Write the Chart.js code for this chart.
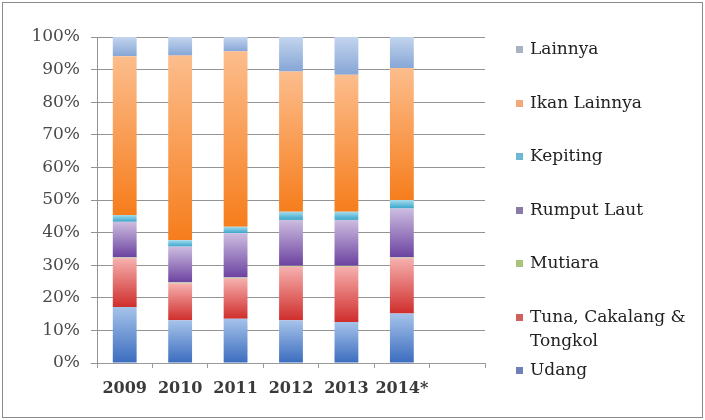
<!DOCTYPE html>
<html>
<head>
<meta charset="utf-8">
<script src="https://cdn.jsdelivr.net/npm/chart.js@4/dist/chart.umd.min.js"></script>
<style>
    html, body { margin: 0; padding: 0; background: #fff; }
    #wrap { position: relative; width: 705px; height: 420px; }
    #frame { position: absolute; left: 2px; top: 2px; width: 699px; height: 414px; border: 1px solid #8a8a8a; pointer-events: none; }
    #legend { position: absolute; left: 512px; top: 22px; width: 180px; margin: 0; padding: 0; list-style: none;
              font-family: "DejaVu Serif", serif; font-size: 17px; color: #222; }
    #legend li { position: relative; height: 53.5px; padding-left: 18px; box-sizing: border-box; padding-top: 14px; line-height: 24px; }
    #legend li span.box { position: absolute; left: 4px; top: 24px; width: 7px; height: 7px; }
</style>
</head>
<body>
<div id="wrap">
    <canvas id="chart" width="705" height="420"></canvas>
    <ul id="legend"></ul>
    <div id="frame"></div>
</div>
<script>
// years, plus the empty slot Excel left at the right end of the axis
const years = ['2009', '2010', '2011', '2012', '2013', '2014*', ''];

const udang = [17.2, 13.1, 13.6, 13.1, 12.6, 15.2];
const tuna = [14.9, 11.3, 12.3, 16.4, 16.9, 16.9];
const mutiara = [0.3, 0.3, 0.3, 0.3, 0.3, 0.3];
const rumputLaut = [10.9, 11.0, 13.6, 14.1, 14.1, 15.0];
const kepiting = [2.1, 2.0, 2.0, 2.5, 2.5, 2.6];
const ikanLainnya = [48.7, 56.6, 53.8, 43.0, 42.0, 40.5];
const lainnya = [5.9, 5.7, 4.4, 10.6, 11.6, 9.5];

const yTicks = [0, 10, 20, 30, 40, 50, 60, 70, 80, 90, 100];

// light top -> dark bottom, like the Excel gradient fill
function segmentFill(light, dark) {
    return (ctx) => {
        if (ctx.type !== 'data') return dark;
        const chart = ctx.chart;
        const yScale = chart.scales.y;
        if (!chart.chartArea || !yScale) return dark;
        const i = ctx.dataIndex;
        let base = 0;
        for (let k = 0; k < ctx.datasetIndex; k++) {
            base += chart.data.datasets[k].data[i] || 0;
        }
        const top = base + (chart.data.datasets[ctx.datasetIndex].data[i] || 0);
        const y0 = yScale.getPixelForValue(top);
        const y1 = yScale.getPixelForValue(base);
        if (!(y1 > y0)) return dark;
        const g = chart.ctx.createLinearGradient(0, y0, 0, y1);
        g.addColorStop(0, light);
        g.addColorStop(1, dark);
        return g;
    };
}

const series = [
    { label: 'Udang', data: udang, light: '#a6c3ea', dark: '#3b6cbf', key: '#6f7fb8' },
    { label: 'Tuna, Cakalang & Tongkol', data: tuna, light: '#f6b0ae', dark: '#cf2e2c', key: '#d0605c' },
    { label: 'Mutiara', data: mutiara, light: '#dbe8c0', dark: '#9bbb59', key: '#a9c47a' },
    { label: 'Rumput Laut', data: rumputLaut, light: '#cdbde0', dark: '#6b42a0', key: '#8a7aa8' },
    { label: 'Kepiting', data: kepiting, light: '#a7dbec', dark: '#36a5cb', key: '#6fb7d4' },
    { label: 'Ikan Lainnya', data: ikanLainnya, light: '#fcbd8c', dark: '#f67d1c', key: '#f2a878' },
    { label: 'Lainnya', data: lainnya, light: '#c3d4ee', dark: '#86a6d6', key: '#a9b2c0' }
];

const datasets = series.map(s => ({
    label: s.label,
    data: s.data,
    backgroundColor: segmentFill(s.light, s.dark),
    borderWidth: 0,
    categoryPercentage: 1,
    barPercentage: 0.43
}));

const serif = '"DejaVu Serif", serif';

const chart = new Chart(document.getElementById('chart'), {
    type: 'bar',
    data: { labels: years, datasets: datasets },
    options: {
        responsive: false,
        animation: false,
        layout: { padding: { left: 0, top: 37, right: 220, bottom: 0 } },
        plugins: {
            legend: { display: false },
            tooltip: { enabled: false }
        },
        scales: {
            x: {
                stacked: true,
                afterFit: (scale) => { scale.height = 57; },
                grid: { drawOnChartArea: false, drawTicks: true, tickLength: 5, color: '#9a9a9a', offset: true },
                border: { color: '#9a9a9a' },
                ticks: {
                    color: '#3a3a3a',
                    padding: 11,
                    autoSkip: false,
                    maxRotation: 0,
                    minRotation: 0,
                    font: { family: serif, size: 16, weight: 'bold' }
                }
            },
            y: {
                stacked: true,
                min: 0,
                max: 100,
                afterFit: (scale) => { scale.width = 97; },
                afterBuildTicks: (scale) => { scale.ticks = yTicks.map(v => ({ value: v })); },
                grid: { color: '#939393', tickLength: 6 },
                border: { color: '#939393' },
                ticks: {
                    color: '#4a4a4a',
                    padding: 11,
                    font: { family: serif, size: 17 },
                    callback: (v) => v + '%'
                }
            }
        }
    }
});

// legend in Excel order: last series on top
const legendEl = document.getElementById('legend');
series.slice().reverse().forEach(s => {
    const li = document.createElement('li');
    const box = document.createElement('span');
    box.className = 'box';
    box.style.background = s.key;
    li.appendChild(box);
    li.appendChild(document.createTextNode(s.label));
    legendEl.appendChild(li);
});
</script>
</body>
</html>
